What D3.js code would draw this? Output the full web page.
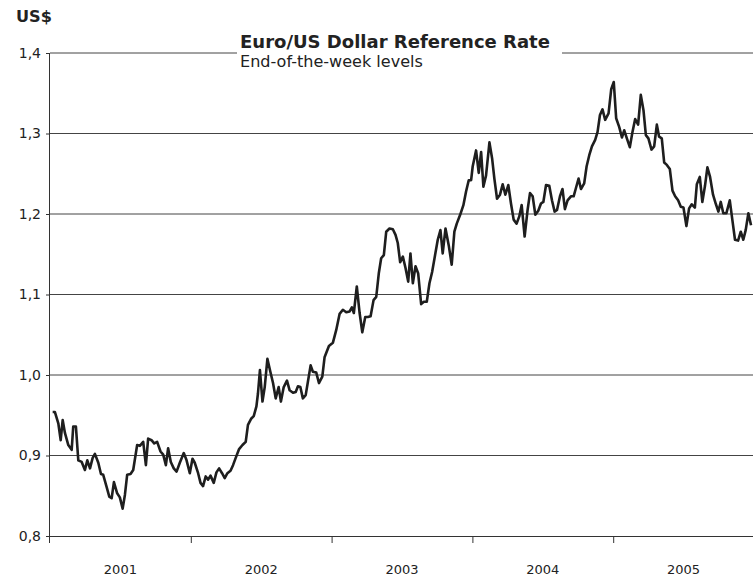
<!DOCTYPE html>
<html>
<head>
<meta charset="utf-8">
<script src="https://cdn.jsdelivr.net/npm/d3@7"></script>
<style>
  body { margin: 0; background: #fff; }
  text { font-family: "DejaVu Sans", Verdana, sans-serif; fill: #222; }
</style>
</head>
<body>
<div id="chart"></div>
<script>
// Euro / US dollar reference rate, end-of-the-week levels 2001-2005
// time is years elapsed since 1 Jan 2001
const yearFrac = [
  0.019, 0.035, 0.059, 0.076, 0.090, 0.106, 0.130, 0.154, 0.165, 0.184,
  0.201, 0.225, 0.248, 0.265, 0.284, 0.303, 0.319, 0.343, 0.362, 0.378,
  0.402, 0.421, 0.438, 0.454, 0.477, 0.496, 0.516, 0.532, 0.548, 0.572,
  0.591, 0.619, 0.638, 0.662, 0.681, 0.697, 0.721, 0.740, 0.761, 0.785,
  0.804, 0.823, 0.839, 0.858, 0.879, 0.899, 0.922, 0.950, 0.970, 0.993,
  1.012, 1.028, 1.052, 1.069, 1.087, 1.106, 1.123, 1.140, 1.163, 1.182,
  1.201, 1.222, 1.241, 1.260, 1.282, 1.300, 1.319, 1.343, 1.367, 1.390,
  1.406, 1.430, 1.447, 1.466, 1.477, 1.491, 1.509, 1.525, 1.544, 1.565,
  1.584, 1.603, 1.624, 1.640, 1.660, 1.683, 1.702, 1.726, 1.745, 1.761,
  1.778, 1.796, 1.816, 1.832, 1.851, 1.867, 1.891, 1.910, 1.934, 1.950,
  1.981, 2.009, 2.033, 2.057, 2.080, 2.104, 2.128, 2.144, 2.158, 2.179,
  2.199, 2.218, 2.239, 2.257, 2.277, 2.298, 2.317, 2.335, 2.352, 2.371,
  2.388, 2.411, 2.435, 2.454, 2.470, 2.487, 2.506, 2.525, 2.544, 2.560,
  2.577, 2.596, 2.615, 2.636, 2.655, 2.676, 2.695, 2.714, 2.735, 2.754,
  2.773, 2.789, 2.809, 2.832, 2.853, 2.872, 2.889, 2.913, 2.936, 2.955,
  2.974, 2.991, 3.002, 3.026, 3.045, 3.062, 3.078, 3.097, 3.121, 3.140,
  3.156, 3.175, 3.196, 3.215, 3.234, 3.255, 3.274, 3.293, 3.314, 3.333,
  3.350, 3.371, 3.392, 3.409, 3.428, 3.447, 3.468, 3.487, 3.504, 3.523,
  3.546, 3.565, 3.584, 3.601, 3.622, 3.640, 3.657, 3.676, 3.700, 3.719,
  3.735, 3.754, 3.771, 3.794, 3.811, 3.830, 3.849, 3.872, 3.889, 3.906,
  3.924, 3.943, 3.967, 3.986, 4.004, 4.021, 4.043, 4.062, 4.078, 4.097,
  4.118, 4.137, 4.156, 4.177, 4.196, 4.215, 4.232, 4.250, 4.272, 4.291,
  4.310, 4.326, 4.345, 4.362, 4.381, 4.402, 4.421, 4.440, 4.461, 4.480,
  4.499, 4.520, 4.539, 4.558, 4.580, 4.594, 4.615, 4.633, 4.652, 4.669,
  4.688, 4.709, 4.728, 4.747, 4.764, 4.782, 4.804, 4.828, 4.846, 4.865,
  4.887, 4.906, 4.924, 4.941, 4.960, 4.979
];
const rate = [
  0.954, 0.954, 0.940, 0.919, 0.944, 0.928, 0.913, 0.907, 0.936, 0.936,
  0.894, 0.892, 0.882, 0.894, 0.884, 0.897, 0.902, 0.891, 0.877, 0.876,
  0.861, 0.849, 0.847, 0.867, 0.853, 0.848, 0.834, 0.851, 0.876, 0.877,
  0.882, 0.913, 0.912, 0.917, 0.888, 0.921, 0.919, 0.915, 0.917, 0.905,
  0.901, 0.888, 0.909, 0.892, 0.884, 0.880, 0.891, 0.903, 0.894, 0.878,
  0.896, 0.891, 0.878, 0.866, 0.862, 0.874, 0.870, 0.875, 0.866, 0.879,
  0.884, 0.878, 0.872, 0.878, 0.881, 0.888, 0.897, 0.908, 0.913, 0.917,
  0.938, 0.946, 0.949, 0.961, 0.977, 1.006, 0.967, 0.985, 1.020, 1.004,
  0.990, 0.971, 0.985, 0.967, 0.985, 0.993, 0.981, 0.978, 0.979, 0.986,
  0.985, 0.971, 0.975, 0.992, 1.012, 1.004, 1.003, 0.990, 0.998, 1.022,
  1.036, 1.040, 1.056, 1.076, 1.081, 1.078, 1.079, 1.084, 1.077, 1.110,
  1.077, 1.053, 1.072, 1.072, 1.073, 1.093, 1.097, 1.126, 1.145, 1.149,
  1.178, 1.182, 1.181, 1.174, 1.164, 1.140, 1.147, 1.133, 1.116, 1.151,
  1.114, 1.135, 1.126, 1.088, 1.091, 1.091, 1.114, 1.128, 1.149, 1.168,
  1.180, 1.151, 1.182, 1.161, 1.137, 1.178, 1.188, 1.199, 1.211, 1.228,
  1.242, 1.242, 1.259, 1.279, 1.251, 1.277, 1.234, 1.248, 1.289, 1.269,
  1.244, 1.219, 1.224, 1.237, 1.224, 1.236, 1.213, 1.193, 1.188, 1.197,
  1.211, 1.172, 1.205, 1.226, 1.222, 1.199, 1.204, 1.213, 1.215, 1.236,
  1.235, 1.217, 1.203, 1.205, 1.222, 1.231, 1.206, 1.217, 1.222, 1.222,
  1.232, 1.244, 1.231, 1.238, 1.259, 1.273, 1.284, 1.292, 1.302, 1.323,
  1.330, 1.317, 1.325, 1.355, 1.364, 1.319, 1.308, 1.295, 1.304, 1.294,
  1.283, 1.302, 1.318, 1.311, 1.348, 1.329, 1.298, 1.294, 1.280, 1.284,
  1.311, 1.296, 1.294, 1.264, 1.261, 1.256, 1.229, 1.222, 1.217, 1.209,
  1.208, 1.185, 1.207, 1.212, 1.208, 1.237, 1.246, 1.215, 1.235, 1.258,
  1.246, 1.224, 1.213, 1.203, 1.215, 1.201, 1.201, 1.217, 1.193, 1.168,
  1.167, 1.178, 1.168, 1.180, 1.201, 1.186
];
const years = ["2001", "2002", "2003", "2004", "2005"];
const yTicks = [0.8, 0.9, 1.0, 1.1, 1.2, 1.3, 1.4];

const W = 753, H = 578;
const x0 = 50, x1 = 754, yTop = 53, yBot = 536;

const svg = d3.select("#chart").append("svg")
  .attr("width", W).attr("height", H);

const x = d3.scaleLinear().domain([0, years.length]).range([x0, x1]);
const y = d3.scaleLinear().domain([0.8, 1.4]).range([yBot, yTop]);

// horizontal grid lines
svg.append("g").selectAll("line")
  .data(yTicks.slice(1))
  .join("line")
  .attr("x1", x0).attr("x2", W)
  .attr("y1", d => y(d)).attr("y2", d => y(d))
  .attr("stroke", "#444").attr("stroke-width", 1);

// y axis
const yAxis = svg.append("g")
  .attr("transform", `translate(${x0},0)`)
  .call(d3.axisLeft(y).tickValues(yTicks).tickSize(4).tickPadding(5)
    .tickFormat(d => d3.format(".1f")(d).replace(".", ",")));
yAxis.select(".domain").attr("d", `M-0.5,${yTop}V${yBot + 7}`).attr("stroke", "#333");
yAxis.selectAll(".tick line").attr("stroke", "#333");
yAxis.selectAll("text").style("font-size", "14px").attr("fill", "#222");

// x axis: ticks at year boundaries, labels centred in each year
const xAxis = svg.append("g")
  .attr("transform", `translate(0,${yBot})`)
  .call(d3.axisBottom(x).tickValues([1, 2, 3, 4]).tickSize(7).tickFormat(""));
xAxis.select(".domain").attr("d", `M${x0},0.5H${W}`).attr("stroke", "#333");
xAxis.selectAll(".tick line").attr("stroke", "#333");

svg.append("g").selectAll("text")
  .data(years)
  .join("text")
  .attr("x", (d, i) => x(i + 0.5))
  .attr("y", 574)
  .attr("text-anchor", "middle")
  .style("font-size", "13px")
  .text(d => d);

// the series
const pts = yearFrac.map((t, i) => [t, rate[i]]);
svg.append("path")
  .datum(pts)
  .attr("fill", "none")
  .attr("stroke", "#1e1e1e")
  .attr("stroke-width", 2.6)
  .attr("stroke-linejoin", "round")
  .attr("d", d3.line().x(d => x(d[0])).y(d => y(d[1])));

// title block sits on a white patch over the top grid line
svg.append("rect")
  .attr("x", 237).attr("y", 30).attr("width", 325).attr("height", 42)
  .attr("fill", "#fff");

function fitWidth(sel, target) {
  const base = parseFloat(sel.style("font-size"));
  const w = sel.node().getComputedTextLength();
  sel.style("font-size", (base * target / w).toFixed(2) + "px");
}

const title = svg.append("text")
  .attr("x", 240).attr("y", 48)
  .style("font-size", "17px").style("font-weight", "bold")
  .text("Euro/US Dollar Reference Rate");
fitWidth(title, 310);

const sub = svg.append("text")
  .attr("x", 240).attr("y", 67)
  .style("font-size", "15px")
  .text("End-of-the-week levels");
fitWidth(sub, 183);

const unit = svg.append("text")
  .attr("x", 16).attr("y", 22)
  .style("font-size", "14px").style("font-weight", "bold")
  .text("US$");
fitWidth(unit, 36);
</script>
</body>
</html>
